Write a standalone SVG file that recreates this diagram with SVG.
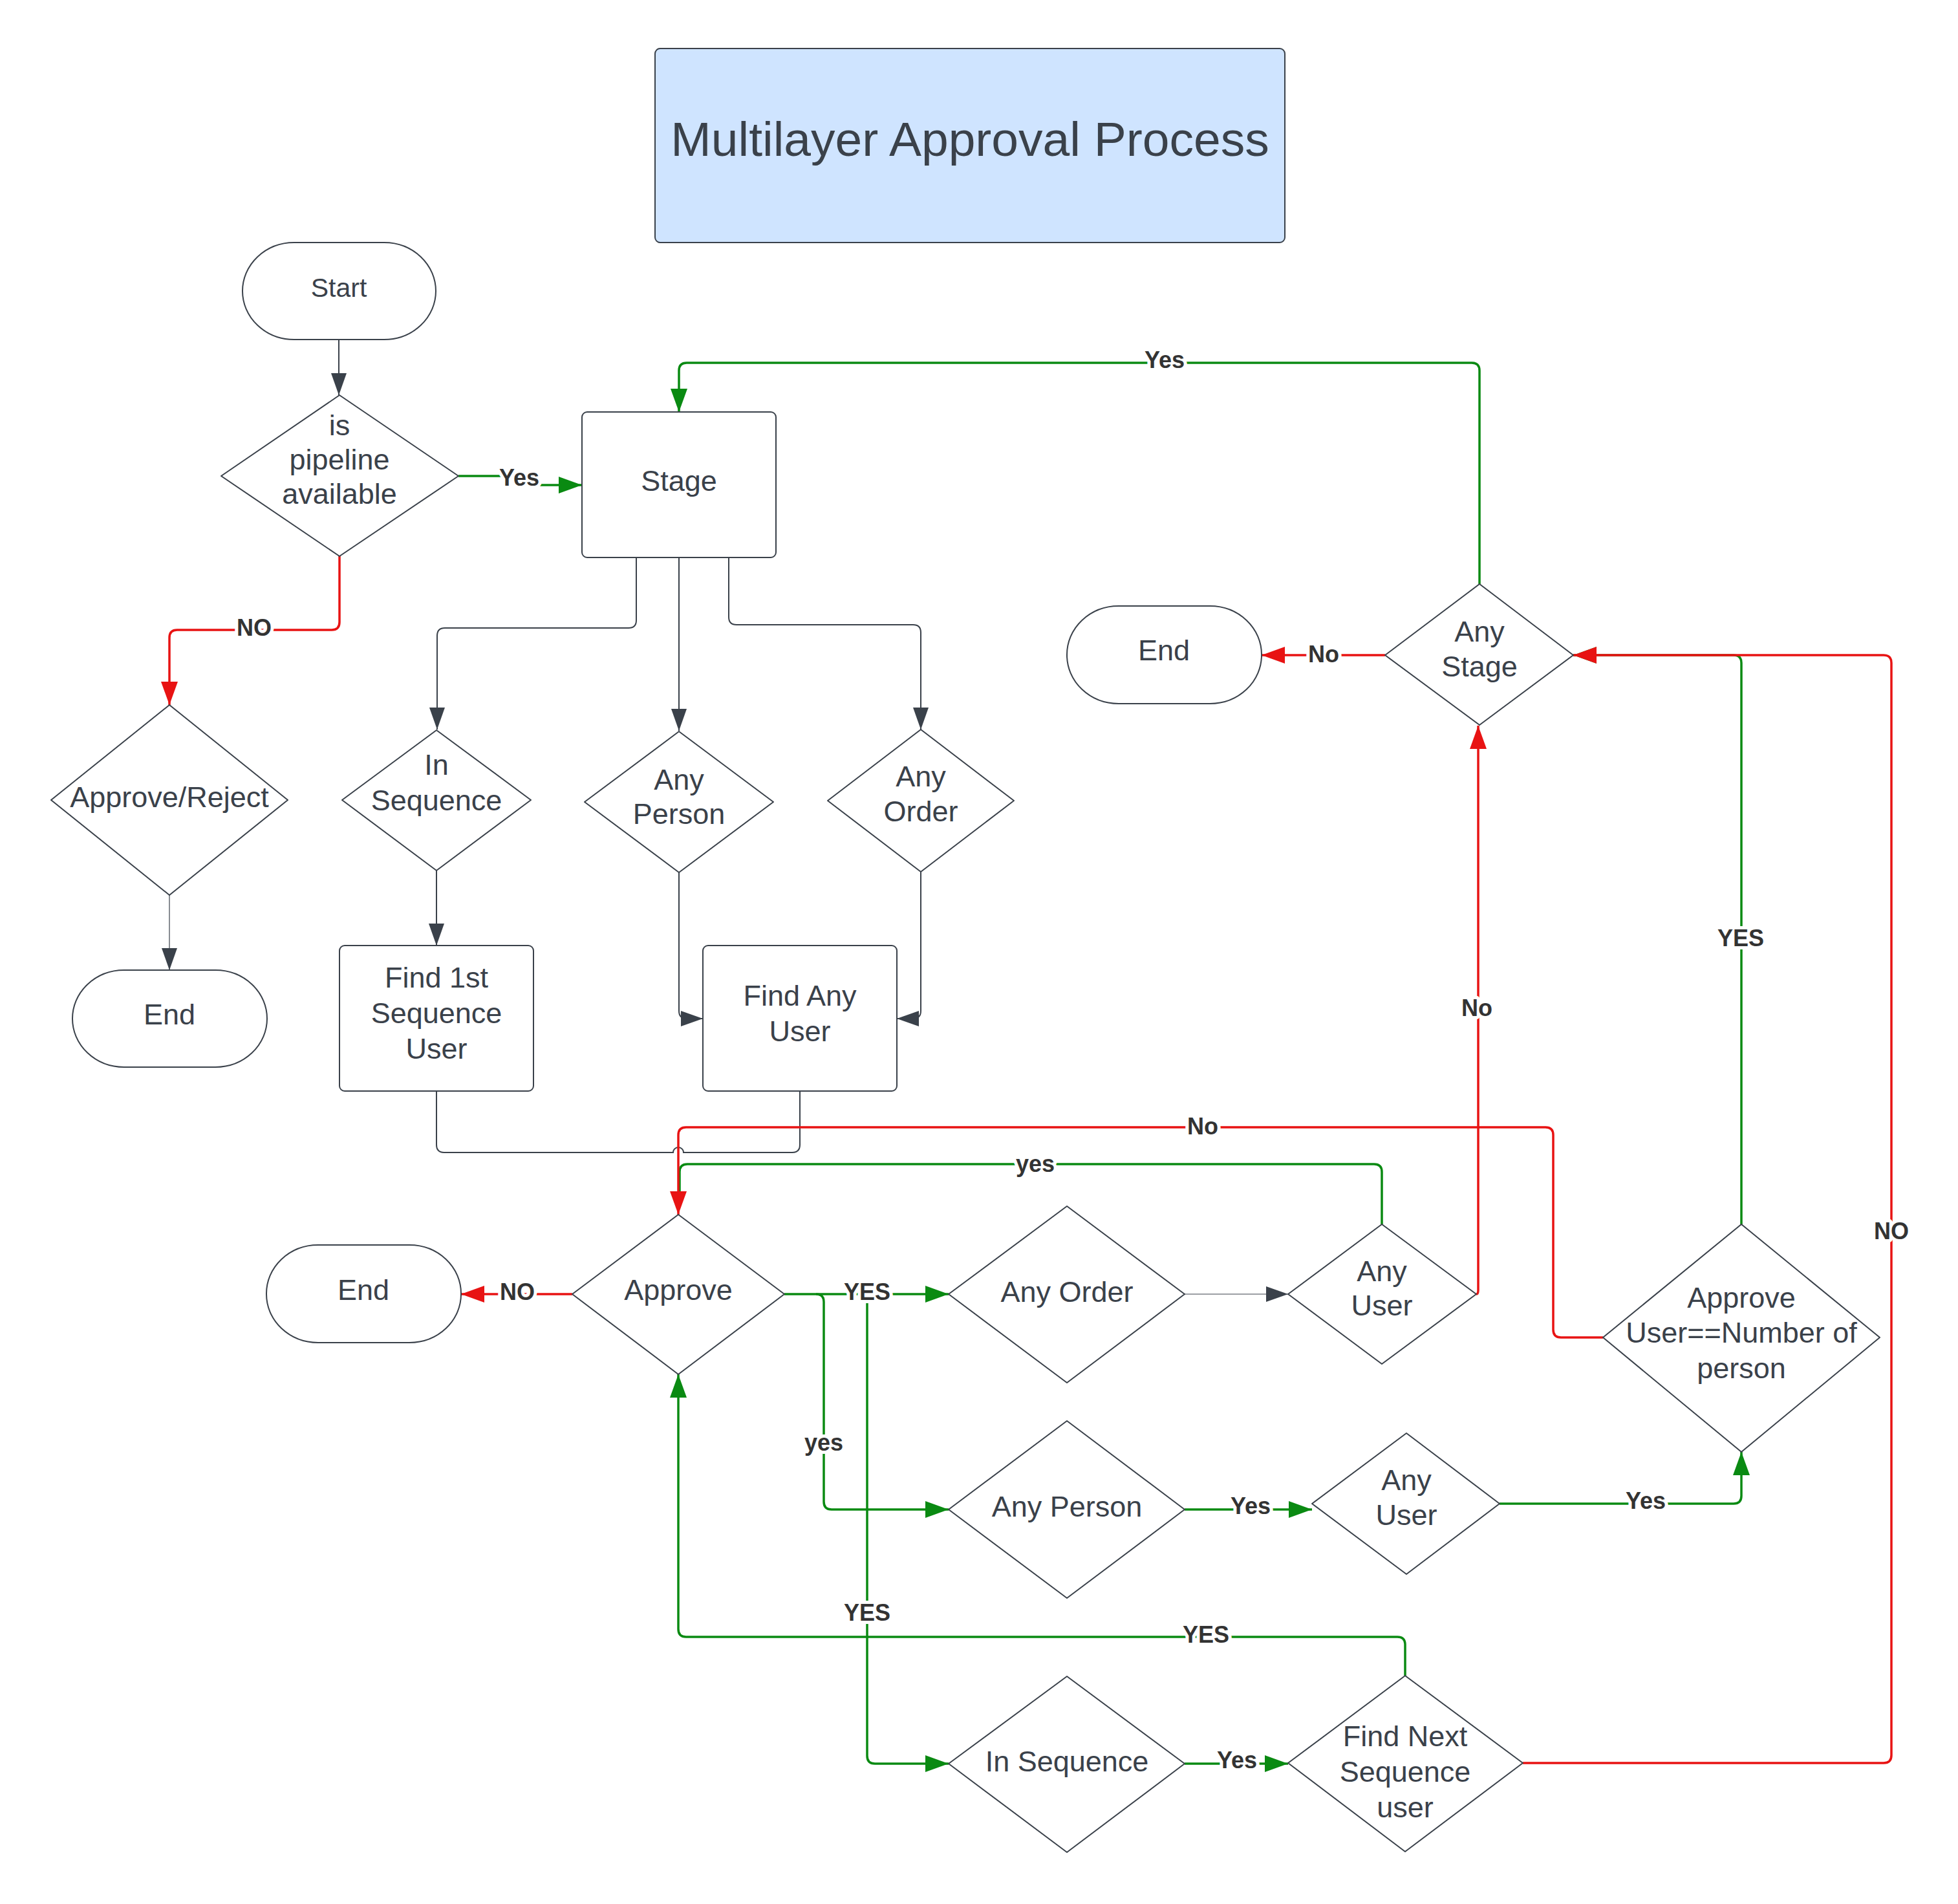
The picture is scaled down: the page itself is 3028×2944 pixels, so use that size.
<svg xmlns="http://www.w3.org/2000/svg" width="3028" height="2944" viewBox="0 0 3028 2944">
<style>
.n{fill:#fff;stroke:#3a414a;stroke-width:2;stroke-linejoin:round}
.t{font-family:"Liberation Sans",Arial,sans-serif;font-size:45px;fill:#3a414a;text-anchor:middle;dominant-baseline:central}
.g{fill:none;stroke:#3a414a;stroke-width:2}
.gt{fill:none;stroke:#3a414a;stroke-width:1.2}
.gr{fill:none;stroke:#0a8a12;stroke-width:3.5}
.rd{fill:none;stroke:#e81313;stroke-width:3.5}
.l{font-family:"Liberation Sans",Arial,sans-serif;font-size:36px;font-weight:bold;fill:#333;text-anchor:middle;dominant-baseline:central;stroke:#fff;stroke-width:10;paint-order:stroke;stroke-linejoin:round}
</style>
<defs>
<marker id="ag" markerUnits="userSpaceOnUse" markerWidth="34" markerHeight="24" refX="34" refY="12" orient="auto"><path d="M0,0 L34,12 L0,24 Z" fill="#3a414a"/></marker>
<marker id="agr" markerUnits="userSpaceOnUse" markerWidth="36" markerHeight="26" refX="36" refY="13" orient="auto"><path d="M0,0 L36,13 L0,26 Z" fill="#0a8a12"/></marker>
<marker id="ard" markerUnits="userSpaceOnUse" markerWidth="36" markerHeight="26" refX="36" refY="13" orient="auto"><path d="M0,0 L36,13 L0,26 Z" fill="#e81313"/></marker>
</defs>
<rect width="3028" height="2944" fill="#fff"/>

<g id="connectors">
<path class="g" d="M524,525 V611" marker-end="url(#ag)"/>
<path class="gr" d="M709,736 H803 V750 H900" marker-end="url(#agr)"/>
<path class="rd" d="M525,860 V962 Q525,974 513,974 H274 Q262,974 262,986 V1090" marker-end="url(#ard)"/>
<path class="gt" d="M262,1384 V1500" marker-end="url(#ag)"/>
<path class="g" d="M984,862 V959 Q984,971 972,971 H688 Q676,971 676,983 V1128" marker-end="url(#ag)"/>
<path class="g" d="M1050,862 V1130" marker-end="url(#ag)"/>
<path class="g" d="M1127,862 V954 Q1127,966 1139,966 H1412 Q1424,966 1424,978 V1128" marker-end="url(#ag)"/>
<path class="g" d="M675,1346 V1462" marker-end="url(#ag)"/>
<path class="g" d="M1050,1349 V1563 Q1050,1575 1062,1575 H1087" marker-end="url(#ag)"/>
<path class="g" d="M1424,1348 V1563 Q1424,1575 1412,1575 H1387" marker-end="url(#ag)"/>
<path class="g" d="M675,1687 V1770 Q675,1782 687,1782 H1041 A8,8 0 0 1 1057,1782 H1225 Q1237,1782 1237,1770 V1687"/>
<path class="gr" d="M2137,1893 V1812 Q2137,1800 2125,1800 H1063 Q1051,1800 1051,1812 V1850"/>
<path class="rd" d="M2479,2068 H2414 Q2402,2068 2402,2056 V1755 Q2402,1743 2390,1743 H1061 Q1049,1743 1049,1755 V1878" marker-end="url(#ard)"/>
<path class="rd" d="M885,2001 H713" marker-end="url(#ard)"/>
<path class="gr" d="M1262,2001 Q1274,2001 1274,2013 V2322 Q1274,2334 1286,2334 H1467" marker-end="url(#agr)"/>
<path class="gr" d="M1341,2001 V2715 Q1341,2727 1353,2727 H1467" marker-end="url(#agr)"/>
<path class="gr" d="M1213,2001 H1467" marker-end="url(#agr)"/>
<path class="gt" d="M1832,2001 H1992" marker-end="url(#ag)"/>
<path class="rd" d="M2283,2001 Q2286,2001 2286,1995 V1122" marker-end="url(#ard)"/>
<path class="gr" d="M1832,2334 H2029" marker-end="url(#agr)"/>
<path class="gr" d="M2319,2325 H2681 Q2693,2325 2693,2313 V2245" marker-end="url(#agr)"/>
<path class="gr" d="M2693,1893 V1025 Q2693,1013 2681,1013 H2433" marker-end="url(#agr)"/>
<path class="rd" d="M2355,2726 H2913 Q2925,2726 2925,2714 V1025 Q2925,1013 2913,1013 H2433" marker-end="url(#ard)"/>
<path class="gr" d="M1832,2727 H1992" marker-end="url(#agr)"/>
<path class="gr" d="M2173,2591 V2543 Q2173,2531 2161,2531 H1061 Q1049,2531 1049,2519 V2125" marker-end="url(#agr)"/>
<path class="gr" d="M2288,903 V573 Q2288,561 2276,561 H1062 Q1050,561 1050,573 V637" marker-end="url(#agr)"/>
<path class="rd" d="M2142,1013 H1951" marker-end="url(#ard)"/>

<text class="l" x="803" y="738">Yes</text>
<text class="l" x="393" y="970">NO</text>
<text class="l" x="1801" y="556">Yes</text>
<text class="l" x="2047" y="1011">No</text>
<text class="l" x="1860" y="1741">No</text>
<text class="l" x="1601" y="1799">yes</text>
<text class="l" x="800" y="1997">NO</text>
<text class="l" x="1341" y="1997">YES</text>
<text class="l" x="1274" y="2230">yes</text>
<text class="l" x="1341" y="2493">YES</text>
<text class="l" x="1865" y="2527">YES</text>
<text class="l" x="1934" y="2328">Yes</text>
<text class="l" x="2545" y="2320">Yes</text>
<text class="l" x="2692" y="1450">YES</text>
<text class="l" x="2284" y="1558">No</text>
<text class="l" x="2925" y="1903">NO</text>
<text class="l" x="1913" y="2721">Yes</text>
</g>

<g id="title">
<rect x="1013" y="75" width="974" height="300" rx="8" fill="#cfe4ff" stroke="#3a414a" stroke-width="2"/>
<text class="t" x="1500" y="215" style="font-size:75px">Multilayer Approval Process</text>
</g>

<g id="start">
<rect class="n" x="375" y="375" width="299" height="150" rx="80" ry="75"/>
<text class="t" x="524" y="445" style="font-size:41px">Start</text>
</g>

<g id="pipeline">
<path class="n" d="M525,611 L709,736 L525,860 L342,736 Z"/>
<text class="t" x="525"><tspan x="525" y="657">is</tspan><tspan x="525" y="710">pipeline</tspan><tspan x="525" y="763">available</tspan></text>
</g>

<g id="stage">
<rect class="n" x="900" y="637" width="300" height="225" rx="8"/>
<text class="t" x="1050" y="743">Stage</text>
</g>

<g id="approveReject">
<path class="n" d="M262,1090 L445,1237 L262,1384 L79,1237 Z"/>
<text class="t" x="262" y="1232">Approve/Reject</text>
</g>

<g id="end1">
<rect class="n" x="112" y="1500" width="301" height="150" rx="80" ry="75"/>
<text class="t" x="262" y="1568">End</text>
</g>

<g id="inSequence1">
<path class="n" d="M675,1129 L821,1237 L675,1346 L529,1237 Z"/>
<text class="t"><tspan x="675" y="1182">In</tspan><tspan x="675" y="1237">Sequence</tspan></text>
</g>

<g id="anyPerson1">
<path class="n" d="M1050,1131 L1196,1240 L1050,1349 L904,1240 Z"/>
<text class="t"><tspan x="1050" y="1205">Any</tspan><tspan x="1050" y="1258">Person</tspan></text>
</g>

<g id="anyOrder1">
<path class="n" d="M1424,1128 L1568,1238 L1424,1348 L1280,1238 Z"/>
<text class="t"><tspan x="1424" y="1200">Any</tspan><tspan x="1424" y="1254">Order</tspan></text>
</g>

<g id="findFirst">
<rect class="n" x="525" y="1462" width="300" height="225" rx="8"/>
<text class="t"><tspan x="675" y="1511">Find 1st</tspan><tspan x="675" y="1566">Sequence</tspan><tspan x="675" y="1621">User</tspan></text>
</g>

<g id="findAny">
<rect class="n" x="1087" y="1462" width="300" height="225" rx="8"/>
<text class="t"><tspan x="1237" y="1539">Find Any</tspan><tspan x="1237" y="1594">User</tspan></text>
</g>

<g id="anyStage">
<path class="n" d="M2288,903 L2433,1013 L2288,1121 L2142,1013 Z"/>
<text class="t"><tspan x="2288" y="976">Any</tspan><tspan x="2288" y="1030">Stage</tspan></text>
</g>

<g id="end2">
<rect class="n" x="1650" y="937" width="301" height="151" rx="80" ry="75"/>
<text class="t" x="1800" y="1005">End</text>
</g>

<g id="end3">
<rect class="n" x="412" y="1925" width="301" height="151" rx="80" ry="75"/>
<text class="t" x="562" y="1994">End</text>
</g>

<g id="approve">
<path class="n" d="M1049,1878 L1213,2001 L1049,2125 L885,2001 Z"/>
<text class="t" x="1049" y="1994">Approve</text>
</g>

<g id="anyOrder2">
<path class="n" d="M1650,1865 L1832,2001 L1650,2138 L1467,2001 Z"/>
<text class="t" x="1650" y="1997">Any Order</text>
</g>

<g id="anyUser1">
<path class="n" d="M2137,1893 L2283,2001 L2137,2109 L1992,2001 Z"/>
<text class="t"><tspan x="2137" y="1965">Any</tspan><tspan x="2137" y="2018">User</tspan></text>
</g>

<g id="approveUser">
<path class="n" d="M2693,1893 L2907,2068 L2693,2245 L2479,2068 Z"/>
<text class="t"><tspan x="2693" y="2006">Approve</tspan><tspan x="2693" y="2060">User==Number of</tspan><tspan x="2693" y="2115">person</tspan></text>
</g>

<g id="anyPerson2">
<path class="n" d="M1650,2197 L1832,2334 L1650,2471 L1467,2334 Z"/>
<text class="t" x="1650" y="2329">Any Person</text>
</g>

<g id="anyUser2">
<path class="n" d="M2175,2216 L2319,2325 L2175,2434 L2029,2325 Z"/>
<text class="t"><tspan x="2175" y="2288">Any</tspan><tspan x="2175" y="2342">User</tspan></text>
</g>

<g id="inSequence2">
<path class="n" d="M1650,2592 L1832,2727 L1650,2864 L1467,2727 Z"/>
<text class="t" x="1650" y="2723">In Sequence</text>
</g>

<g id="findNext">
<path class="n" d="M2173,2591 L2355,2726 L2173,2863 L1992,2726 Z"/>
<text class="t"><tspan x="2173" y="2684">Find Next</tspan><tspan x="2173" y="2739">Sequence</tspan><tspan x="2173" y="2794">user</tspan></text>
</g>
</svg>
